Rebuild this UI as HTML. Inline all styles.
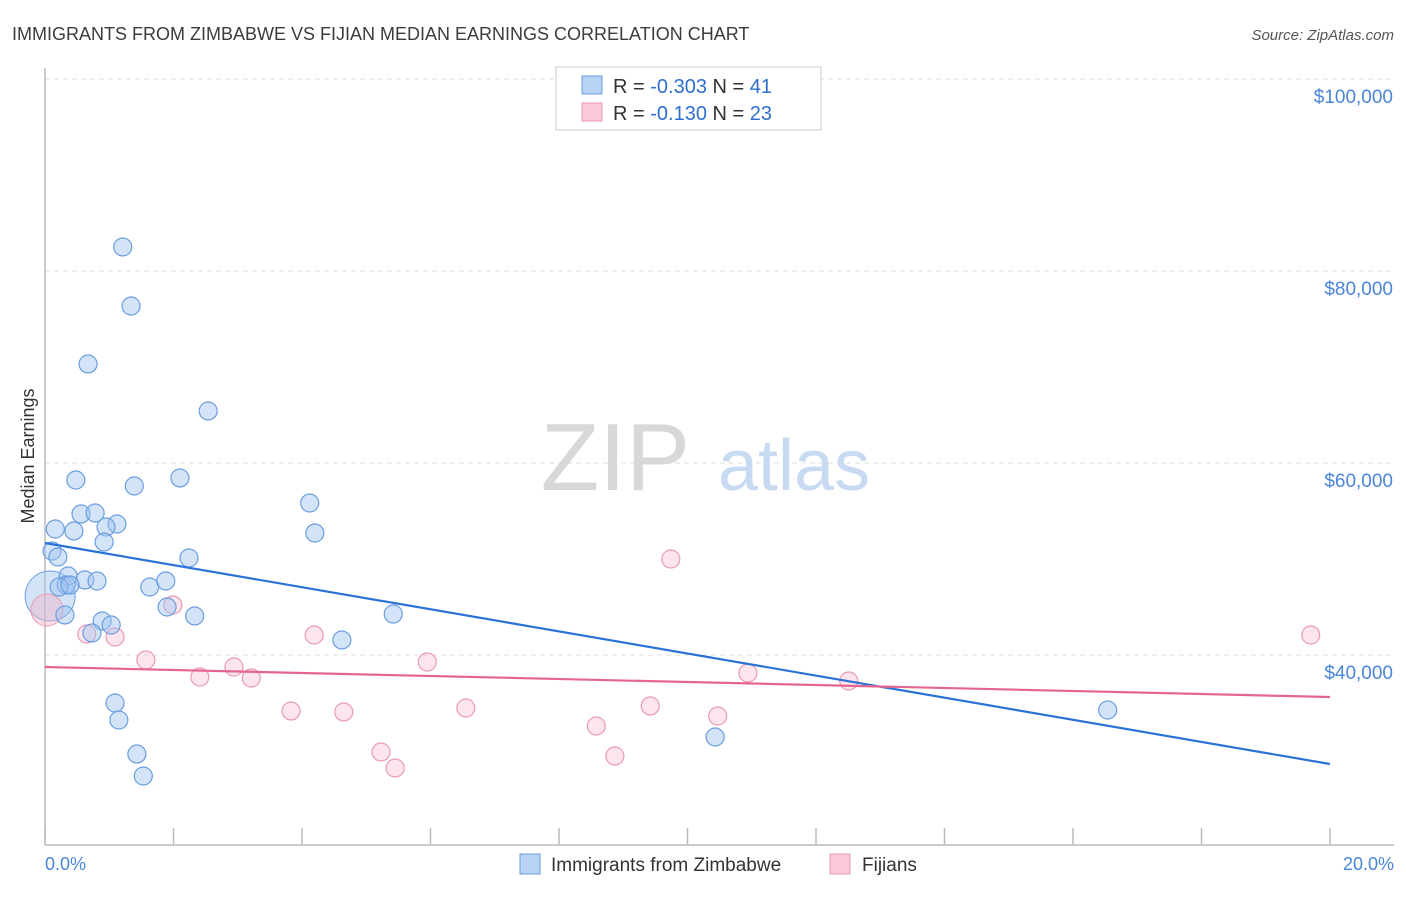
<!DOCTYPE html>
<html><head><meta charset="utf-8"><style>
body{margin:0;background:#fff;font-family:"Liberation Sans",sans-serif;}
svg text{font-family:"Liberation Sans",sans-serif;}
</style></head><body>
<svg id="chart" width="1406" height="892" viewBox="0 0 1406 892">
<text x="12" y="40" font-size="18" fill="#3c3c3c">IMMIGRANTS FROM ZIMBABWE VS FIJIAN MEDIAN EARNINGS CORRELATION CHART</text>
<text x="1394" y="40" font-size="15" fill="#555" text-anchor="end" font-style="italic">Source: ZipAtlas.com</text>
<g id="grid"></g>
<text x="690" y="490" font-size="96" fill="#d8d8d8" text-anchor="end" font-family="Liberation Serif">ZIP</text>
<text x="718" y="490" font-size="72" fill="#c8daf2">atlas</text>
<line x1="45" y1="68" x2="45" y2="845" stroke="#bbb" stroke-width="1.5"/>
<line x1="45" y1="845" x2="1394" y2="845" stroke="#bbb" stroke-width="1.5"/>
<text x="34" y="456" font-size="18" fill="#333" text-anchor="middle" transform="rotate(-90 34 456)">Median Earnings</text>
<text x="45" y="870" font-size="18" fill="#4a86d8">0.0%</text>
<text x="1394" y="870" font-size="18" fill="#4a86d8" text-anchor="end">20.0%</text>
<g id="marks"></g>
<g>
<rect x="556" y="67" width="265" height="63" fill="#fff" stroke="#ccc"/>
<rect x="582" y="76" width="20" height="18" fill="#b8d3f5" stroke="#6a9de0"/>
<text x="613" y="93" font-size="20" fill="#333">R = <tspan fill="#2f6fd0">-0.303</tspan>   N = <tspan fill="#2f6fd0">41</tspan></text>
<rect x="582" y="103" width="20" height="18" fill="#fac9d8" stroke="#e89ab3"/>
<text x="613" y="120" font-size="20" fill="#333">R =  <tspan fill="#2f6fd0">-0.130</tspan>   N = <tspan fill="#2f6fd0">23</tspan></text>
</g>
<g>
<rect x="520" y="854" width="20" height="20" fill="#b8d3f5" stroke="#6a9de0"/>
<text x="551" y="871" font-size="19" fill="#333">Immigrants from Zimbabwe</text>
<rect x="830" y="854" width="20" height="20" fill="#fac9d8" stroke="#e89ab3"/>
<text x="862" y="871" font-size="19" fill="#333">Fijians</text>
</g>
</svg>
<script>
const yTicks=[40000,60000,80000,100000];
const yTickLabels=["$40,000","$60,000","$80,000","$100,000"];
const blueX=[1.21,1.34,0.67,2.54,0.48,2.10,1.39,4.12,0.56,0.78,0.16,1.12,0.95,0.45,0.92,4.20,0.11,0.20,2.24,0.36,0.33,0.62,0.81,0.22,0.39,1.63,1.88,1.90,5.42,0.31,2.33,0.89,1.03,0.73,4.62,1.09,1.15,1.43,1.53,10.43,16.54];
const blueY=[82500,76354,70313,65417,58229,58438,57604,55833,54688,54792,53125,53646,53333,52917,51771,52708,50833,50208,50104,48229,47292,47813,47708,47083,47292,47083,47708,45000,44271,44167,44063,43542,43125,42292,41563,35000,33229,29688,27396,31458,34271];
const pinkX=[1.99,0.65,1.09,4.19,1.57,2.94,2.41,3.21,5.95,9.74,10.94,12.51,3.83,4.65,6.55,9.42,10.47,5.23,5.45,8.58,8.87,19.70];
const pinkY=[45208,42188,41875,42083,39479,38750,37708,37604,39271,50000,38125,37292,34167,34063,34479,34688,33646,29896,28229,32604,29479,42083];
const blueTrend=[51667,28646];
const pinkTrend=[38750,35625];
const NS="http://www.w3.org/2000/svg";
const xS=v=>45+v*64.25;
const yS=v=>79+(100000-v)*192/20000;
const grid=document.getElementById('grid'),marks=document.getElementById('marks');
function mk(t,a,p){const e=document.createElementNS(NS,t);for(const k in a)e.setAttribute(k,a[k]);p.appendChild(e);return e;}
yTicks.forEach((v,i)=>{
 const l=mk('line',{x1:45,x2:1394,y1:yS(v),y2:yS(v),stroke:'#ddd','stroke-dasharray':'5,4'},grid);
 
 
 const t=mk('text',{x:1393,y:yS(v)+24,'font-size':19,fill:'#4a86d8','text-anchor':'end'},grid);
 t.textContent=yTickLabels[i];
 
 
});
for(let i=0;i<=10;i++){
 const l=mk('line',{x1:xS(i*2),x2:xS(i*2),y1:828,y2:845,stroke:'#bbb','stroke-width':1.5},grid);
 
 
}
const bb=mk('circle',{cx:xS(0.08),cy:yS(46146),r:25,fill:'rgba(160,196,240,0.45)',stroke:'#6a9de0'},marks);


const pb=mk('circle',{cx:xS(0.03),cy:yS(44688),r:16,fill:'rgba(245,180,200,0.45)',stroke:'#e89ab3'},marks);


pinkX.forEach((x,i)=>{
 const c=mk('circle',{cx:xS(x),cy:yS(pinkY[i]),r:9,fill:'rgba(248,190,210,0.4)',stroke:'#e89ab3','stroke-width':1.2},marks);
 
 
});
blueX.forEach((x,i)=>{
 const c=mk('circle',{cx:xS(x),cy:yS(blueY[i]),r:9,fill:'rgba(160,196,240,0.45)',stroke:'#6a9de0','stroke-width':1.2},marks);
 
 
});
const bl=mk('line',{x1:xS(0),y1:yS(blueTrend[0]),x2:xS(20),y2:yS(blueTrend[1]),stroke:'#2a72d8','stroke-width':2.2},marks);


const pl=mk('line',{x1:xS(0),y1:yS(pinkTrend[0]),x2:xS(20),y2:yS(pinkTrend[1]),stroke:'#e4668f','stroke-width':2.2},marks);


</script>
</body></html>
